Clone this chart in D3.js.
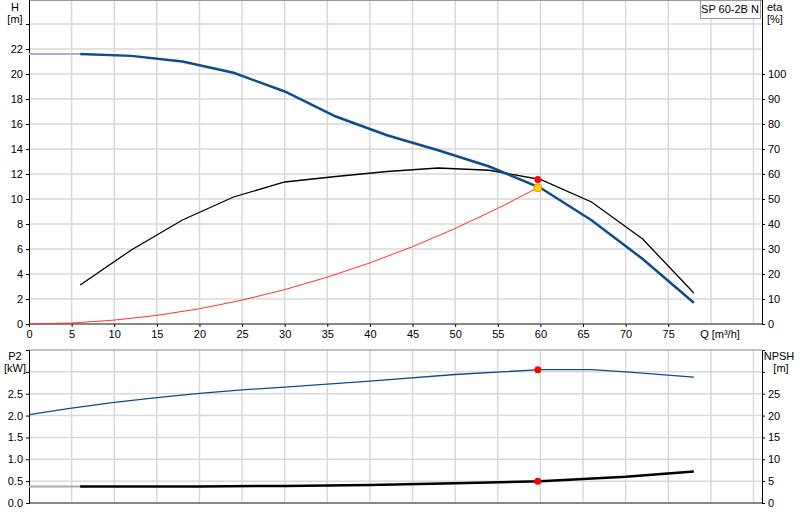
<!DOCTYPE html><html><head><meta charset="utf-8">
<script src="https://cdn.jsdelivr.net/npm/d3@7"></script>
<style>body{margin:0;background:#fff}text{font-family:Arial,"Liberation Sans",sans-serif;font-size:11px;fill:#000}</style></head><body>
<svg id="c" width="800" height="520"></svg>
<script>
const qTicks=[0,5,10,15,20,25,30,35,40,45,50,55,60,65,70,75];
const hTicks=[0,2,4,6,8,10,12,14,16,18,20,22];
const etaTicks=[0,10,20,30,40,50,60,70,80,90,100];
const p2Ticks=[0,0.5,1,1.5,2,2.5];
const npshTicks=[0,5,10,15,20,25];
const headStart=[[0,21.6],[6,21.6]];
const headQ=[6,12,18,24,30,36,42,48,54,60,66,72,78];
const headH=[21.6,21.45,21.0,20.1,18.6,16.6,15.1,13.9,12.6,10.9,8.3,5.2,1.7];
const etaQ=[6,12,18,24,30,36,42,48,54,60,66,72,78];
const etaV=[15.6,29.6,41.6,50.8,56.8,59,61,62.4,61.5,57.8,48.8,34,12.4];
const sysQ=[0,5,10,15,20,25,30,35,40,45,50,55,59.7];
const sysH=[0,0.08,0.31,0.69,1.22,1.91,2.75,3.75,4.89,6.19,7.64,9.25,10.9];
const p2Q=[0,5,10,15,20,25,30,40,50,60,66,70,78];
const p2V=[2.02,2.17,2.3,2.41,2.51,2.59,2.65,2.79,2.94,3.05,3.05,3.0,2.88];
const npStart=[[0,3.8],[6,3.8]];
const npQ=[6,20,30,40,50,60,70,78];
const npV=[3.8,3.8,3.9,4.1,4.5,5.0,6.0,7.2];
const duty={q:59.7,h:10.9,eta:57.8,p2:3.05,npsh:5.0};

const svg=d3.select("#c");
const x=d3.scaleLinear().domain([0,86]).range([29,762]);
const yH=d3.scaleLinear().domain([0,26]).range([324,-1]);
const yE=d3.scaleLinear().domain([0,130]).range([324,-1]);
const yP=d3.scaleLinear().domain([0,3.5]).range([503,350]);
const yN=d3.scaleLinear().domain([0,35]).range([503,350]);
const grid="#d9d9d9";
function vgrid(y0,y1){svg.append("g").selectAll("line").data(d3.range(0,90,5).filter(v=>v>0)).join("line")
 .attr("x1",d=>x(d)).attr("x2",d=>x(d)).attr("y1",y0).attr("y2",y1).attr("stroke",grid).attr("stroke-width",1.5);}
vgrid(0,324);vgrid(350,503);
svg.append("g").selectAll("line").data(d3.range(2,26,2)).join("line").attr("x1",29).attr("x2",762)
 .attr("y1",d=>yH(d)).attr("y2",d=>yH(d)).attr("stroke",grid).attr("stroke-width",1.5);
svg.append("g").selectAll("line").data(d3.range(0.5,3.5,0.5)).join("line").attr("x1",29).attr("x2",762)
 .attr("y1",d=>yP(d)).attr("y2",d=>yP(d)).attr("stroke",grid).attr("stroke-width",1.5);
// frames
svg.append("line").attr("x1",29).attr("x2",762).attr("y1",0.5).attr("y2",0.5).attr("stroke","#999");
svg.append("line").attr("x1",29).attr("x2",762).attr("y1",350).attr("y2",350).attr("stroke","#888");
svg.append("line").attr("x1",29).attr("x2",762).attr("y1",324).attr("y2",324).attr("stroke","#888").attr("stroke-width",2);
svg.append("line").attr("x1",29).attr("x2",762).attr("y1",503).attr("y2",503).attr("stroke","#888").attr("stroke-width",2);
// axes
const ax=(g,t)=>{g.select(".domain").attr("stroke","#000");g.selectAll("text").style("font-size","11px");};
svg.append("g").attr("transform","translate(0,324)").call(d3.axisBottom(x).tickValues(qTicks).tickSize(3).tickFormat(d3.format("d"))).call(ax).select(".domain").remove();
svg.append("g").attr("transform","translate(29,0)").call(d3.axisLeft(yH).tickValues(hTicks.concat([24])).tickSize(3).tickFormat(d=>d==24?"":d)).call(ax);
svg.append("g").attr("transform","translate(762,0)").call(d3.axisRight(yE).tickValues(etaTicks).tickSize(3)).call(ax);
svg.append("g").attr("transform","translate(29,0)").call(d3.axisLeft(yP).tickValues(p2Ticks.concat([3])).tickSize(3).tickFormat(d=>d==3?"":d3.format(".1f")(d))).call(ax);
svg.append("g").attr("transform","translate(762,0)").call(d3.axisRight(yN).tickValues(npshTicks.concat([30])).tickSize(3).tickFormat(d=>d==30?"":d)).call(ax);
const T=(s,px,py,a)=>svg.append("text").attr("x",px).attr("y",py).attr("text-anchor",a||"middle").text(s);
T("H",15,11);T("[m]",15,23);T("eta",767,11,"start");T("[%]",767,23,"start");
T("P2",15,360);T("[kW]",15,372);T("NPSH",779,360);T("[m]",781,372);
T("Q [m³/h]",720,338);
svg.append("rect").attr("x",700.5).attr("y",0.5).attr("width",60).attr("height",18).attr("fill","#fff").attr("stroke","#999");
T("SP 60-2B N",730,13);
const line=(xs,ys,sy)=>d3.line().x((d,i)=>x(xs[i])).y((d,i)=>sy(ys[i]))(xs);
const lineP=(pts,sy)=>d3.line().x(d=>x(d[0])).y(d=>sy(d[1]))(pts);
const P=(d,c,w)=>svg.append("path").attr("d",d).attr("fill","none").attr("stroke",c).attr("stroke-width",w);
P(lineP(headStart,yH),"#aab4c8",2);
P(line(sysQ,sysH,yH),"#ff3030",1);
P(line(etaQ,etaV,yE),"#000",1.3);
P(line(headQ,headH,yH),"#0f4c8a",2.5);
P(line(p2Q,p2V,yP),"#0f4c8a",1.3);
P(lineP(npStart,yN),"#aaa",2);
P(line(npQ,npV,yN),"#000",2.5);
const dot=(px,py,c)=>svg.append("circle").attr("cx",px).attr("cy",py).attr("r",3.5).attr("fill",c);
dot(x(duty.q),yE(duty.eta),"#f00");
svg.append("circle").attr("cx",x(duty.q)).attr("cy",yH(duty.h)).attr("r",4).attr("fill","#ffd700").attr("stroke","#f80").attr("stroke-width",1);
dot(x(duty.q),yP(duty.p2),"#f00");
dot(x(duty.q),yN(duty.npsh),"#f00");
</script></body></html>
